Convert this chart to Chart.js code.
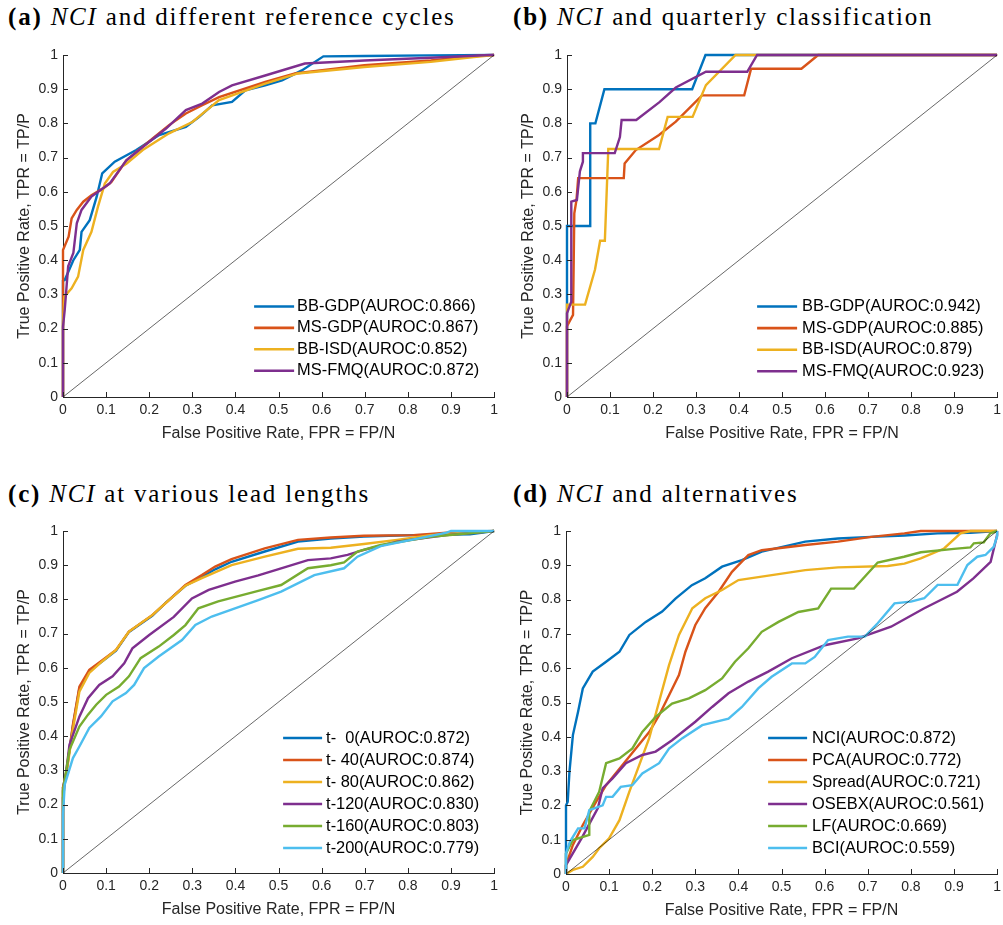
<!DOCTYPE html>
<html>
<head>
<meta charset="utf-8">
<script src="https://cdn.jsdelivr.net/npm/chart.js@4.4.0/dist/chart.umd.min.js"></script>
<style>
body{margin:0;background:#fff;width:1003px;height:925px;overflow:hidden;position:relative}
.ttl{position:absolute;font-family:"Liberation Serif","Times New Roman",serif;font-size:25px;line-height:25px;letter-spacing:1.8px;color:#000;white-space:nowrap}
canvas{position:absolute}
</style>
</head>
<body>
<div class="ttl" style="left:8px;top:4px"><b>(a)</b> <i>NCI</i> and different reference cycles</div>
<div class="ttl" style="left:513px;top:4px"><b>(b)</b> <i>NCI</i> and quarterly classification</div>
<div class="ttl" style="left:8px;top:481px"><b>(c)</b> <i>NCI</i> at various lead lengths</div>
<div class="ttl" style="left:513px;top:481px"><b>(d)</b> <i>NCI</i> and alternatives</div>
<canvas id="ca"></canvas>
<canvas id="cb"></canvas>
<canvas id="cc"></canvas>
<canvas id="cd"></canvas>
<script>
// axis ticks
var tickVals = [0, 0.1, 0.2, 0.3, 0.4, 0.5, 0.6, 0.7, 0.8, 0.9, 1];
var xTitle = 'False Positive Rate, FPR = FP/N';
var yTitle = 'True Positive Rate, TPR = TP/P';
var colors = ['#0072BD', '#D95319', '#EDB120', '#7E2F8E', '#77AC30', '#4DBEEE'];

// (a) reference cycles  [FPR, TPR]
var namesA = ['BB-GDP(AUROC:0.866)', 'MS-GDP(AUROC:0.867)', 'BB-ISD(AUROC:0.852)', 'MS-FMQ(AUROC:0.872)'];
var aBBGDP = [[0,0],[0,0.34],[0.004,0.342],[0.024,0.40],[0.039,0.43],[0.043,0.483],[0.062,0.517],[0.078,0.585],[0.091,0.654],[0.12,0.688],[0.17,0.722],[0.223,0.766],[0.285,0.79],[0.316,0.819],[0.346,0.853],[0.392,0.863],[0.423,0.897],[0.469,0.911],[0.508,0.926],[0.554,0.955],[0.604,0.996],[0.7,0.997],[0.85,0.999],[1,1]];
var aMSGDP = [[0,0],[0,0.43],[0.013,0.469],[0.02,0.522],[0.032,0.547],[0.047,0.571],[0.066,0.59],[0.093,0.61],[0.112,0.628],[0.147,0.692],[0.208,0.756],[0.246,0.795],[0.285,0.829],[0.323,0.853],[0.362,0.877],[0.469,0.921],[0.538,0.946],[0.699,0.97],[0.853,0.984],[0.945,0.996],[1,1]];
var aBBISD = [[0,0],[0,0.215],[0.003,0.293],[0.02,0.318],[0.035,0.352],[0.047,0.43],[0.066,0.483],[0.081,0.556],[0.097,0.624],[0.116,0.658],[0.147,0.682],[0.185,0.722],[0.246,0.771],[0.3,0.804],[0.362,0.868],[0.469,0.916],[0.545,0.946],[0.699,0.965],[0.853,0.98],[0.953,0.994],[1,1]];
var aMSFMQ = [[0,0],[0,0.205],[0.004,0.255],[0.012,0.382],[0.024,0.421],[0.032,0.508],[0.043,0.547],[0.066,0.586],[0.108,0.624],[0.147,0.692],[0.185,0.731],[0.239,0.785],[0.285,0.839],[0.323,0.858],[0.362,0.892],[0.392,0.911],[0.469,0.94],[0.561,0.975],[0.699,0.984],[0.853,0.992],[0.99,1],[1,1]];

// (b) quarterly classification
var namesB = ['BB-GDP(AUROC:0.942)', 'MS-GDP(AUROC:0.885)', 'BB-ISD(AUROC:0.879)', 'MS-FMQ(AUROC:0.923)'];
var bBBGDP = [[0,0],[0,0.5],[0.054,0.5],[0.054,0.8],[0.066,0.8],[0.087,0.9],[0.291,0.9],[0.322,1],[1,1]];
var bMSGDP = [[0,0],[0,0.207],[0.014,0.24],[0.017,0.537],[0.022,0.576],[0.026,0.64],[0.132,0.64],[0.134,0.683],[0.16,0.722],[0.214,0.766],[0.253,0.805],[0.314,0.882],[0.412,0.882],[0.428,0.96],[0.545,0.96],[0.584,1],[1,1]];
var bBBISD = [[0,0],[0,0.27],[0.042,0.27],[0.065,0.372],[0.077,0.457],[0.088,0.457],[0.096,0.725],[0.214,0.725],[0.234,0.819],[0.292,0.819],[0.323,0.912],[0.392,1],[1,1]];
var bMSFMQ = [[0,0],[0,0.245],[0.01,0.279],[0.01,0.571],[0.023,0.576],[0.03,0.66],[0.037,0.688],[0.037,0.713],[0.111,0.713],[0.123,0.76],[0.127,0.81],[0.161,0.81],[0.215,0.862],[0.253,0.905],[0.323,0.951],[0.419,0.951],[0.442,1],[1,1]];

// (c) lead lengths
var namesC = ['t-  0(AUROC:0.872)', 't- 40(AUROC:0.874)', 't- 80(AUROC:0.862)', 't-120(AUROC:0.830)', 't-160(AUROC:0.803)', 't-200(AUROC:0.779)'];
var cT0 = [[0,0],[0,0.25],[0.008,0.295],[0.023,0.43],[0.038,0.54],[0.061,0.59],[0.092,0.62],[0.123,0.65],[0.153,0.705],[0.207,0.752],[0.238,0.79],[0.284,0.84],[0.322,0.866],[0.353,0.888],[0.391,0.91],[0.468,0.94],[0.545,0.969],[0.621,0.978],[0.698,0.984],[0.813,0.988],[0.944,0.99],[1,1]];
var cT40 = [[0,0],[0,0.25],[0.008,0.297],[0.023,0.434],[0.038,0.545],[0.061,0.594],[0.092,0.623],[0.123,0.652],[0.153,0.706],[0.207,0.754],[0.238,0.789],[0.284,0.842],[0.322,0.871],[0.353,0.896],[0.391,0.918],[0.468,0.949],[0.545,0.974],[0.621,0.981],[0.698,0.986],[0.813,0.988],[0.89,0.995],[1,1]];
var cT80 = [[0,0],[0,0.24],[0.008,0.29],[0.023,0.42],[0.038,0.53],[0.061,0.585],[0.092,0.62],[0.123,0.652],[0.153,0.706],[0.207,0.754],[0.238,0.789],[0.284,0.84],[0.322,0.862],[0.391,0.90],[0.468,0.925],[0.545,0.948],[0.621,0.951],[0.698,0.962],[0.775,0.974],[0.852,0.988],[1,1]];
var cT120 = [[0,0],[0,0.22],[0.015,0.375],[0.038,0.457],[0.058,0.511],[0.084,0.55],[0.115,0.575],[0.142,0.613],[0.161,0.657],[0.2,0.696],[0.257,0.749],[0.299,0.803],[0.338,0.828],[0.399,0.852],[0.453,0.87],[0.506,0.891],[0.568,0.915],[0.621,0.92],[0.66,0.93],[0.698,0.945],[0.775,0.969],[0.89,0.988],[1,1]];
var cT160 = [[0,0],[0,0.24],[0.015,0.36],[0.038,0.428],[0.058,0.463],[0.077,0.492],[0.1,0.521],[0.13,0.545],[0.153,0.575],[0.18,0.628],[0.222,0.662],[0.257,0.696],[0.284,0.725],[0.314,0.774],[0.36,0.794],[0.453,0.825],[0.506,0.842],[0.568,0.891],[0.621,0.9],[0.652,0.908],[0.683,0.94],[0.737,0.959],[0.852,0.983],[1,1]];
var cT200 = [[0,0],[0,0.17],[0.004,0.258],[0.023,0.336],[0.038,0.37],[0.061,0.424],[0.088,0.458],[0.115,0.502],[0.146,0.526],[0.165,0.55],[0.188,0.599],[0.222,0.633],[0.276,0.681],[0.307,0.725],[0.345,0.75],[0.453,0.798],[0.506,0.823],[0.583,0.871],[0.652,0.891],[0.683,0.925],[0.737,0.956],[0.89,0.995],[0.9,1],[1,1]];

// (d) alternatives
var namesD = ['NCI(AUROC:0.872)', 'PCA(AUROC:0.772)', 'Spread(AUROC:0.721)', 'OSEBX(AUROC:0.561)', 'LF(AUROC:0.669)', 'BCI(AUROC:0.559)'];
var dNCI = [[0,0],[0,0.2],[0.004,0.211],[0.008,0.298],[0.016,0.405],[0.028,0.473],[0.039,0.541],[0.062,0.59],[0.093,0.619],[0.124,0.648],[0.147,0.697],[0.185,0.735],[0.223,0.765],[0.254,0.803],[0.292,0.842],[0.323,0.862],[0.362,0.896],[0.408,0.915],[0.454,0.94],[0.555,0.969],[0.631,0.978],[0.708,0.983],[0.785,0.987],[0.862,0.993],[0.938,0.995],[1,1]];
var dPCA = [[0,0],[0,0.026],[0.016,0.085],[0.039,0.143],[0.07,0.211],[0.093,0.259],[0.124,0.307],[0.162,0.366],[0.193,0.414],[0.216,0.463],[0.239,0.521],[0.262,0.58],[0.277,0.648],[0.3,0.726],[0.323,0.775],[0.354,0.823],[0.385,0.881],[0.423,0.93],[0.454,0.944],[0.555,0.959],[0.631,0.969],[0.708,0.983],[0.785,0.993],[0.823,1],[1,1]];
var dSpread = [[0,0],[0.016,0.012],[0.039,0.021],[0.062,0.05],[0.077,0.075],[0.1,0.104],[0.124,0.157],[0.147,0.24],[0.17,0.318],[0.193,0.396],[0.216,0.503],[0.239,0.609],[0.262,0.697],[0.293,0.775],[0.323,0.804],[0.362,0.828],[0.4,0.857],[0.454,0.867],[0.555,0.886],[0.631,0.894],[0.746,0.898],[0.785,0.905],[0.823,0.92],[0.877,0.949],[0.915,0.993],[0.938,1],[1,1]];
var dOSEBX = [[0,0],[0,0.026],[0.036,0.104],[0.074,0.192],[0.085,0.25],[0.108,0.279],[0.139,0.323],[0.177,0.347],[0.208,0.357],[0.246,0.39],[0.3,0.444],[0.339,0.487],[0.377,0.527],[0.423,0.561],[0.469,0.59],[0.524,0.629],[0.6,0.667],[0.677,0.687],[0.754,0.721],[0.83,0.774],[0.907,0.823],[0.945,0.862],[0.985,0.91],[1,0.988],[1,1]];
var dLF = [[0,0],[0,0.06],[0.016,0.099],[0.054,0.114],[0.054,0.182],[0.077,0.24],[0.093,0.323],[0.124,0.337],[0.154,0.366],[0.177,0.414],[0.208,0.458],[0.246,0.497],[0.285,0.512],[0.323,0.536],[0.362,0.57],[0.392,0.619],[0.423,0.658],[0.454,0.706],[0.493,0.735],[0.539,0.764],[0.585,0.774],[0.615,0.832],[0.668,0.832],[0.723,0.908],[0.784,0.925],[0.823,0.938],[0.9,0.948],[0.938,0.952],[0.946,0.964],[0.969,0.967],[0.984,0.993],[1,1]];
var dBCI = [[0,0],[0,0.06],[0.009,0.094],[0.028,0.133],[0.043,0.133],[0.054,0.186],[0.085,0.2],[0.093,0.225],[0.108,0.225],[0.127,0.254],[0.154,0.259],[0.177,0.293],[0.216,0.323],[0.239,0.366],[0.27,0.396],[0.316,0.434],[0.377,0.453],[0.408,0.487],[0.446,0.541],[0.477,0.575],[0.524,0.614],[0.555,0.614],[0.577,0.633],[0.608,0.682],[0.654,0.692],[0.693,0.692],[0.723,0.731],[0.762,0.789],[0.8,0.794],[0.831,0.804],[0.862,0.843],[0.908,0.843],[0.931,0.901],[0.954,0.925],[0.973,0.93],[0.992,0.954],[1,0.984],[1,1]];

var diag = [[0,0],[1,1]];

// inward tick marks, MATLAB style
var innerTicks = {
    id: 'innerTicks',
    afterDraw: function (chart) {
        var ctx = chart.ctx, a = chart.chartArea;
        var sx = chart.scales.x, sy = chart.scales.y;
        ctx.save();
        ctx.strokeStyle = '#262626';
        ctx.lineWidth = 1;
        ctx.beginPath();
        tickVals.forEach(function (v) {
            var px = Math.round(sx.getPixelForValue(v)) + 0.5;
            ctx.moveTo(px, a.bottom);
            ctx.lineTo(px, a.bottom - 5);
            var py = Math.round(sy.getPixelForValue(v)) + 0.5;
            ctx.moveTo(a.left, py);
            ctx.lineTo(a.left + 5, py);
        });
        ctx.stroke();
        ctx.restore();
    }
};

// legend inside the axes, no box
var rocLegend = {
    id: 'rocLegend',
    afterDraw: function (chart, args, opts) {
        var ctx = chart.ctx, a = chart.chartArea;
        ctx.save();
        ctx.font = '16.4px "Liberation Sans", Arial, sans-serif';
        ctx.textBaseline = 'middle';
        ctx.fillStyle = '#000';
        opts.names.forEach(function (name, i) {
            var x = a.right + opts.x;
            var y = a.bottom + opts.y + i * opts.dy;
            ctx.strokeStyle = colors[i];
            ctx.lineWidth = 2.6;
            ctx.beginPath();
            ctx.moveTo(x, y);
            ctx.lineTo(x + opts.len, y);
            ctx.stroke();
            ctx.fillText(name, x + opts.len + opts.gap, y);
        });
        ctx.restore();
    }
};

function toXY(arr) {
    return arr.map(function (p) { return {x: p[0], y: p[1]}; });
}

function makePanel(id, box, series, names, leg) {
    var cv = document.getElementById(id);
    var w = box.R - box.L + 69, h = box.B - box.T + 70;
    cv.width = w; cv.height = h;
    cv.style.left = (box.L - 63) + 'px';
    cv.style.top = (box.T - 20) + 'px';
    cv.style.width = w + 'px';
    cv.style.height = h + 'px';

    var datasets = series.map(function (s, i) {
        return {
            data: toXY(s), borderColor: colors[i], borderWidth: 2.4,
            pointRadius: 0, tension: 0, fill: false, clip: false, order: -i
        };
    });
    datasets.push({data: toXY(diag), borderColor: '#000', borderWidth: 0.6,
        pointRadius: 0, fill: false, order: -100});

    var axisFont = {family: '"Liberation Sans", Arial, sans-serif', size: 14};
    var titleFont = {family: '"Liberation Sans", Arial, sans-serif', size: 16};
    var fmt = function (v) { return String(Number(v.toFixed(1))); };

    return new Chart(cv, {
        type: 'line',
        data: {datasets: datasets},
        options: {
            responsive: false,
            animation: false,
            devicePixelRatio: 1,
            layout: {padding: {top: 20, right: 6, left: 0, bottom: 0}},
            plugins: {
                legend: {display: false},
                tooltip: {enabled: false},
                rocLegend: leg
            },
            scales: {
                x: {
                    type: 'linear', min: 0, max: 1,
                    ticks: {stepSize: 0.1, padding: 5, font: axisFont, color: '#262626',
                        maxRotation: 0, autoSkip: false, callback: fmt},
                    grid: {drawOnChartArea: false, drawTicks: false},
                    border: {color: '#262626', width: 1},
                    title: {display: true, text: xTitle, font: titleFont, color: '#262626',
                        padding: {top: 0, bottom: 4}},
                    afterFit: function (s) { s.height = 50; }
                },
                y: {
                    type: 'linear', min: 0, max: 1,
                    ticks: {stepSize: 0.1, padding: 5, font: axisFont, color: '#262626', callback: fmt},
                    grid: {drawOnChartArea: false, drawTicks: false},
                    border: {color: '#262626', width: 1},
                    title: {display: true, text: yTitle, font: titleFont, color: '#262626',
                        padding: {top: 15, bottom: 0}},
                    afterFit: function (s) { s.width = 63; }
                }
            }
        },
        plugins: [innerTicks, rocLegend]
    });
}

makePanel('ca', {L: 63, T: 55, R: 497, B: 397},
    [aBBGDP, aMSGDP, aBBISD, aMSFMQ], namesA,
    {names: namesA, x: -240, y: -90.5, dy: 21.4, len: 40, gap: 3});
makePanel('cb', {L: 567, T: 55, R: 1000, B: 397},
    [bBBGDP, bMSGDP, bBBISD, bMSFMQ], namesB,
    {names: namesB, x: -240, y: -90.5, dy: 21.6, len: 40, gap: 5});
makePanel('cc', {L: 63, T: 531, R: 497, B: 873},
    [cT0, cT40, cT80, cT120, cT160, cT200], namesC,
    {names: namesC, x: -211, y: -135, dy: 22, len: 39, gap: 4});
makePanel('cd', {L: 566, T: 531, R: 1000, B: 874},
    [dNCI, dPCA, dSpread, dOSEBX, dLF, dBCI], namesD,
    {names: namesD, x: -229, y: -136, dy: 22, len: 39, gap: 5});
</script>
</body>
</html>
